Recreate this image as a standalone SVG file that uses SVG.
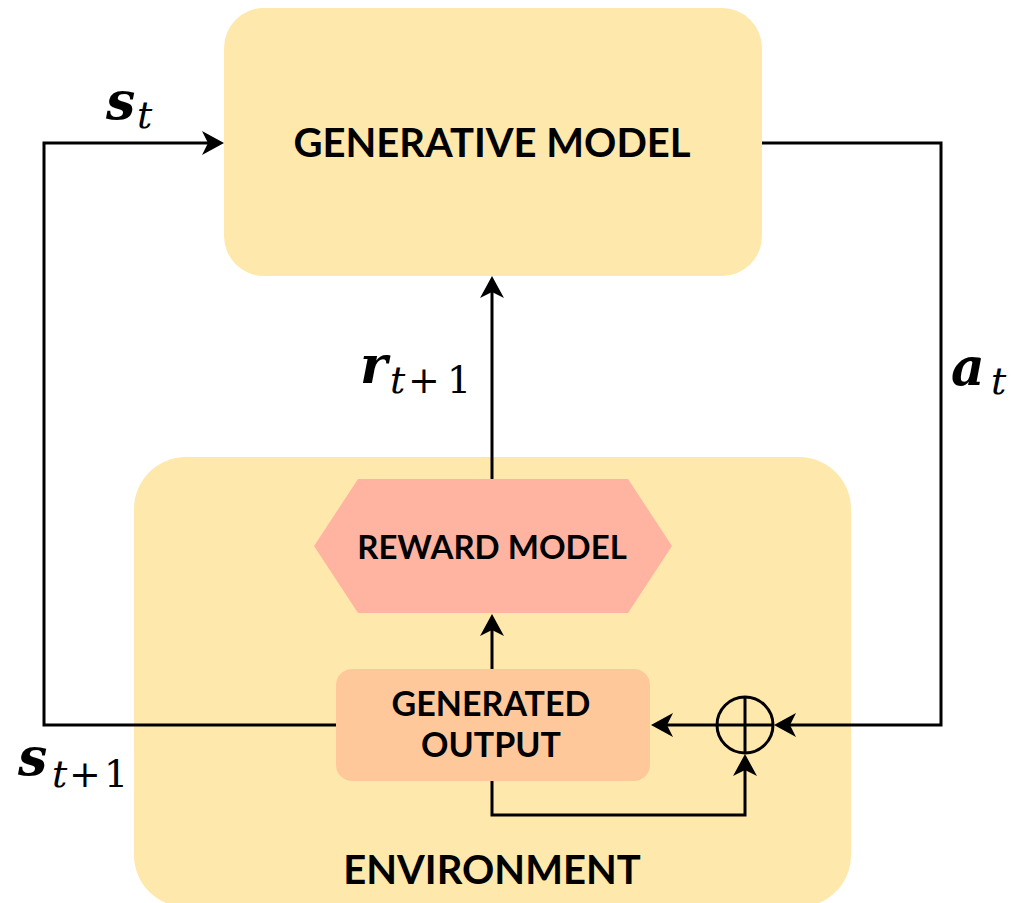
<svg xmlns="http://www.w3.org/2000/svg" width="1013" height="903" viewBox="0 0 1013 903">
<style>
.box{fill:#FFE8AB}
.lbl{font-family:Lato,"Open Sans","Liberation Sans",sans-serif;font-weight:700;fill:#000;text-anchor:middle}
.wire{fill:none;stroke:#000;stroke-width:3}
.m{font-family:"DejaVu Serif","Liberation Serif",serif;fill:#000}
.mv{font-style:italic;font-weight:700;font-size:52px}
.ms{font-style:italic;font-size:38px}
.mn{font-size:38px}
</style>
<defs>
<marker id="arr" markerUnits="userSpaceOnUse" markerWidth="22" markerHeight="24" viewBox="0 0 22 24" refX="16" refY="12" orient="auto">
<path d="M0,0 L22,12 L0,24 L6,12 Z" fill="#000"/>
</marker>
</defs>
<g id="generative-model">
<rect class="box" x="224" y="8" width="538" height="268" rx="40"/>
<text class="lbl" x="492" y="157" font-size="40">GENERATIVE MODEL</text>
</g>
<g id="environment">
<rect class="box" x="134" y="457" width="717" height="450" rx="52"/>
<text class="lbl" x="492" y="884" font-size="40">ENVIRONMENT</text>
</g>
<g id="reward-model">
<polygon points="314,546 358,479 628,479 672,546 628,613 358,613" fill="#FFB4A2"/>
<text class="lbl" x="492" y="559" font-size="33">REWARD MODEL</text>
</g>
<g id="generated-output">
<rect x="336" y="669" width="314" height="112" rx="16" fill="#FFC89B"/>
<text class="lbl" x="491" y="716" font-size="34">GENERATED</text>
<text class="lbl" x="491" y="757" font-size="34">OUTPUT</text>
</g>
<g id="sum">
<circle cx="745" cy="725" r="28" fill="none" stroke="#000" stroke-width="3"/>
<line x1="717" y1="725" x2="773" y2="725" stroke="#000" stroke-width="3"/>
<line x1="745" y1="697" x2="745" y2="753" stroke="#000" stroke-width="3"/>
</g>
<g id="connectors">
<path class="wire" d="M336,725 L44,725 L44,143 L218,143" marker-end="url(#arr)"/>
<path class="wire" d="M762,143 L941,143 L941,725 L780,725" marker-end="url(#arr)"/>
<path class="wire" d="M717,725 L657,725" marker-end="url(#arr)"/>
<path class="wire" d="M492,781 L492,815 L745,815 L745,760" marker-end="url(#arr)"/>
<path class="wire" d="M492,669 L492,620" marker-end="url(#arr)"/>
<path class="wire" d="M492,479 L492,282" marker-end="url(#arr)"/>
</g>
<g id="labels">
<text class="m" x="106" y="119"><tspan class="mv">s</tspan><tspan class="ms" x="137" y="128">t</tspan></text>
<text class="m" x="360" y="383"><tspan class="mv">r</tspan><tspan class="ms" x="390" y="393">t</tspan><tspan class="mn" x="408">+</tspan><tspan class="mn" x="447">1</tspan></text>
<text class="m" x="18" y="775"><tspan class="mv">s</tspan><tspan class="ms" x="52" y="787">t</tspan><tspan class="mn" x="69">+</tspan><tspan class="mn" x="104">1</tspan></text>
<text class="m" x="951" y="385"><tspan class="mv">a</tspan><tspan class="ms" x="991" y="394">t</tspan></text>
</g>
</svg>
